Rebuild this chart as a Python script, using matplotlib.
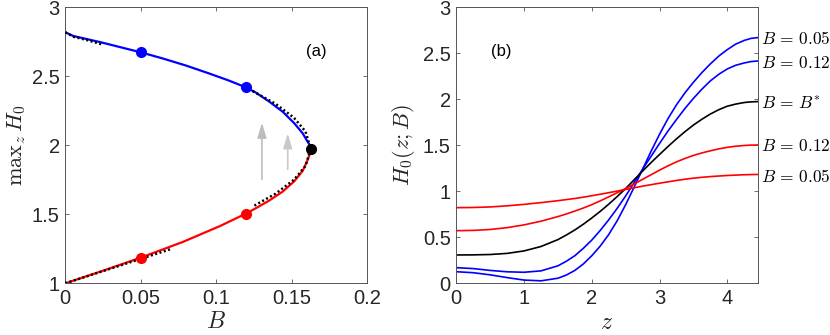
import matplotlib
matplotlib.use("Agg")
import matplotlib.pyplot as plt
from matplotlib.ticker import FixedLocator, FixedFormatter

plt.rcParams['font.family'] = ['Liberation Sans', 'DejaVu Sans']
plt.rcParams['mathtext.fontset'] = 'cm'

# ---------------- panel (a) data ----------------
B_upper = [0.0, 0.0053, 0.023, 0.05, 0.065, 0.08, 0.095, 0.108, 0.1198, 0.1265,
           0.1353, 0.1442, 0.1519, 0.1574, 0.1607, 0.1622, 0.1627]
H_upper = [2.819, 2.792, 2.748, 2.674, 2.628, 2.578, 2.522, 2.471, 2.42, 2.381,
           2.316, 2.243, 2.159, 2.087, 2.026, 2.0, 1.975]
B_lower = [0.0, 0.025, 0.05, 0.078, 0.1026, 0.1198, 0.1265, 0.1353, 0.1442,
           0.1519, 0.1574, 0.1607, 0.1622, 0.1627]
H_lower = [1.0, 1.091, 1.186, 1.30, 1.415, 1.505, 1.545, 1.60, 1.665,
           1.74, 1.815, 1.893, 1.94, 1.975]

# asymptotic (dotted) approximations
B_asym_top = [0.0, 0.0053, 0.0142, 0.0241]
H_asym_top = [2.819, 2.787, 2.763, 2.732]
B_asym_bot = [0.0, 0.0694]
H_asym_bot = [1.0, 1.246]
B_asym_fold = [0.1254, 0.1395, 0.1516, 0.1593, 0.1627, 0.1593, 0.1516, 0.1395, 0.1237]
H_asym_fold = [1.563, 1.65, 1.75, 1.85, 1.975, 2.1, 2.2, 2.3, 2.396]

B_marks = [0.05, 0.12]
H_marks_upper = [2.674, 2.42]
H_marks_lower = [1.186, 1.505]
B_star = 0.1627
H_star = 1.975

arrow_B = [0.1304, 0.1475]
arrow_from = [1.754, 1.826]
arrow_to = [2.164, 2.087]

xa_ticks = [0, 0.05, 0.1, 0.15, 0.2]
xa_labels = ['0', '0.05', '0.1', '0.15', '0.2']
ya_ticks = [1, 1.5, 2, 2.5, 3]
ya_labels = ['1', '1.5', '2', '2.5', '3']

# ---------------- panel (b) data ----------------
z = [0, 0.25, 0.5, 0.75, 1.0, 1.25, 1.5, 1.625, 1.75, 1.875, 2.0, 2.125, 2.25,
     2.375, 2.5, 2.625, 2.75, 2.875, 3.0, 3.125, 3.25, 3.375, 3.5, 3.625, 3.75,
     3.875, 4.0, 4.125, 4.25, 4.35, 4.443]
H_blue_005 = [0.126, 0.115, 0.092, 0.062, 0.035, 0.027, 0.055, 0.09, 0.14, 0.21,
              0.30, 0.405, 0.53, 0.68, 0.855, 1.045, 1.24, 1.435, 1.62, 1.79,
              1.94, 2.07, 2.185, 2.29, 2.385, 2.47, 2.54, 2.60, 2.64, 2.662, 2.67]
H_blue_012 = [0.17, 0.16, 0.14, 0.125, 0.12, 0.135, 0.19, 0.24, 0.30, 0.38,
              0.47, 0.575, 0.69, 0.815, 0.95, 1.095, 1.24, 1.38, 1.52, 1.655,
              1.78, 1.90, 2.01, 2.11, 2.20, 2.272, 2.33, 2.37, 2.395, 2.41, 2.416]
H_black = [0.308, 0.309, 0.313, 0.325, 0.352, 0.40, 0.475, 0.525, 0.58, 0.642,
           0.71, 0.782, 0.86, 0.943, 1.03, 1.125, 1.22, 1.312, 1.40, 1.487,
           1.57, 1.648, 1.72, 1.783, 1.84, 1.887, 1.925, 1.948, 1.965, 1.972, 1.975]
H_red_012 = [0.572, 0.575, 0.585, 0.605, 0.635, 0.675, 0.725, 0.754, 0.785, 0.818,
             0.855, 0.896, 0.94, 0.984, 1.03, 1.08, 1.13, 1.18, 1.23, 1.277,
             1.32, 1.357, 1.39, 1.417, 1.44, 1.461, 1.478, 1.49, 1.498, 1.502, 1.503]
H_red_005 = [0.822, 0.824, 0.83, 0.842, 0.858, 0.877, 0.898, 0.91, 0.922, 0.936,
             0.952, 0.968, 0.985, 1.002, 1.02, 1.038, 1.056, 1.072, 1.088, 1.103,
             1.118, 1.131, 1.143, 1.152, 1.16, 1.166, 1.172, 1.176, 1.18, 1.182, 1.183]

curve_labels = [r'$B\,=\,0.05$', r'$B\,=\,0.12$', r'$B\,=\,B^{*}$',
                r'$B\,=\,0.12$', r'$B\,=\,0.05$']
label_y = [2.663, 2.39, 1.95, 1.49, 1.16]

xb_ticks = [0, 1, 2, 3, 4]
xb_labels = ['0', '1', '2', '3', '4']
yb_ticks = [0, 0.5, 1, 1.5, 2, 2.5, 3]
yb_labels = ['0', '0.5', '1', '1.5', '2', '2.5', '3']

# ---------------- figure ----------------
fig = plt.figure(figsize=(8.3, 3.35), dpi=100)
W, Hh = 830, 335
axa = fig.add_axes([65.3 / W, (Hh - 283.3) / Hh, (366.9 - 65.3) / W, 276 / Hh])
axb = fig.add_axes([456.3 / W, (Hh - 283.3) / Hh, (757.7 - 456.3) / W, 276 / Hh])

axcol = '#262626'
for ax in (axa, axb):
    for s in ax.spines.values():
        s.set_color('#555555')
        s.set_linewidth(0.7)
    ax.tick_params(direction='in', length=3, width=0.6, colors='#555555',
                   labelcolor=axcol, labelsize=14.5, top=True, right=True, pad=4)

# panel (a)
axa.plot(B_upper, H_upper, color='blue', lw=1.6, zorder=2)
axa.plot(B_lower, H_lower, color='red', lw=1.6, zorder=2)
dot = dict(color='black', lw=1.8, linestyle=(0, (0.8, 1.0)), zorder=3)
axa.plot(B_asym_top, H_asym_top, **dot)
axa.plot(B_asym_bot, H_asym_bot, **dot)
axa.plot(B_asym_fold, H_asym_fold, **dot)
axa.plot(B_marks, H_marks_upper, 'o', color='blue', ms=7, zorder=4)
axa.plot(B_marks, H_marks_lower, 'o', color='red', ms=7, zorder=4)
axa.plot([B_star], [H_star], 'o', color='black', ms=7, zorder=4)
arrow_cols = ['#bdbdbd', '#c9c9c9']
for b, y0, y1, c in zip(arrow_B, arrow_from, arrow_to, arrow_cols):
    axa.annotate('', xy=(b, y1), xytext=(b, y0),
                 arrowprops=dict(arrowstyle='-|>,head_length=0.6,head_width=0.18',
                                 mutation_scale=15, color=c, lw=1.2,
                                 shrinkA=0, shrinkB=0))
axa.set_xlim(0, 0.2)
axa.set_ylim(1, 3)
axa.xaxis.set_major_locator(FixedLocator(xa_ticks))
axa.xaxis.set_major_formatter(FixedFormatter(xa_labels))
axa.yaxis.set_major_locator(FixedLocator(ya_ticks))
axa.yaxis.set_major_formatter(FixedFormatter(ya_labels))
axa.set_xlabel(r'$B$', fontsize=17, color=axcol, labelpad=2)
axa.set_ylabel(r'$\mathrm{max}_z\, H_0$', fontsize=16, color=axcol, labelpad=3)
axa.text(0.1667, 2.678, '(a)', fontsize=12, ha='center', va='center', color='black')

# panel (b)
axb.plot(z, H_blue_005, color='blue', lw=1.2)
axb.plot(z, H_blue_012, color='blue', lw=1.2)
axb.plot(z, H_black, color='black', lw=1.2)
axb.plot(z, H_red_012, color='red', lw=1.2)
axb.plot(z, H_red_005, color='red', lw=1.2)
axb.set_xlim(0, 4.449)
axb.set_ylim(0, 3)
axb.xaxis.set_major_locator(FixedLocator(xb_ticks))
axb.xaxis.set_major_formatter(FixedFormatter(xb_labels))
axb.yaxis.set_major_locator(FixedLocator(yb_ticks))
axb.yaxis.set_major_formatter(FixedFormatter(yb_labels))
axb.set_xlabel(r'$z$', fontsize=17, color=axcol, labelpad=3)
axb.set_ylabel(r'$H_0(z;B)$', fontsize=16, color=axcol, labelpad=4)
axb.text(0.664, 2.517, '(b)', fontsize=12, ha='center', va='center', color='black')
for lab, yv in zip(curve_labels, label_y):
    axb.text(1.012, yv, lab, transform=axb.get_yaxis_transform(), fontsize=12.5,
             ha='left', va='center', color='black', clip_on=False)

fig.savefig('out.png', dpi=100)
